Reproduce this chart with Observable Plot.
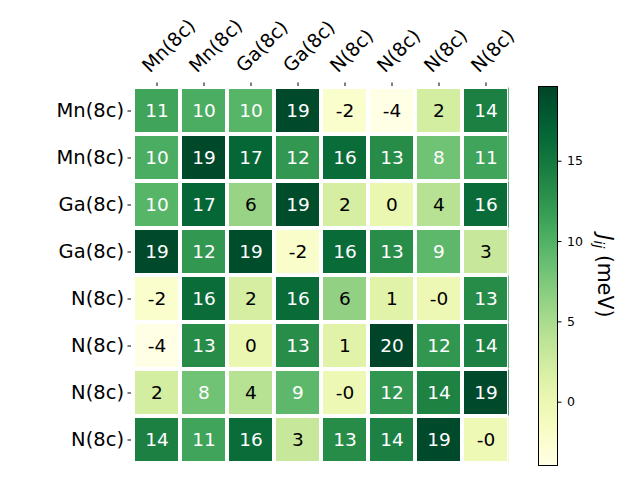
<!DOCTYPE html>
<html><head><meta charset="utf-8">
<script src="https://cdn.jsdelivr.net/npm/d3@7"></script>
<script src="https://cdn.jsdelivr.net/npm/@observablehq/plot@0.6"></script>
<style>
html,body{margin:0;padding:0;background:#fff;}
#wrap{position:relative;width:640px;height:480px;font-family:"DejaVu Sans",sans-serif;}
#wrap svg{position:absolute;left:0;top:0;overflow:visible;}
</style></head><body><div id="wrap"></div>
<script>
// ---- data ----
const siteLabels = ["Mn(8c)","Mn(8c)","Ga(8c)","Ga(8c)","N(8c)","N(8c)","N(8c)","N(8c)"];
const row0 = [11.2, 10.4,  9.7, 19.2, -2.2, -3.94,  2.2, 14.3];
const row1 = [10.4, 19.4, 16.8, 12.3, 16.1, 13.2,   8.3, 11.2];
const row2 = [ 9.7, 16.8,  6.0, 19.0,  2.1,  0.2,   4.2, 16.2];
const row3 = [19.2, 12.3, 19.0, -2.1, 16.3, 13.1,   9.3,  3.1];
const row4 = [-2.2, 16.1,  2.1, 16.3,  6.4,  1.2,  -0.3, 13.2];
const row5 = [-3.94,13.2,  0.2, 13.1,  1.2, 19.65, 12.4, 14.2];
const row6 = [ 2.2,  8.3,  4.2,  9.3, -0.3, 12.4,  14.1, 19.3];
const row7 = [14.3, 11.2, 16.2,  3.1, 13.2, 14.2,  19.3, -0.4];
const rows = [row0,row1,row2,row3,row4,row5,row6,row7];
const colorbarTicks = [0, 5, 10, 15];
const colorbarLabel = ["J", "ij", " (meV)"];

// ---- build ----
const cells = [];
rows.forEach((r, i) => r.forEach((v, j) => cells.push({row: i, col: j, v})));
const vmin = d3.min(cells, d => d.v), vmax = d3.max(cells, d => d.v);
const mid = (vmin + vmax) / 2;
const idx = d3.range(siteLabels.length);
const lastCol = idx.length - 1;
const colorOpt = {type: "linear", scheme: "ylgn", domain: [vmin, vmax]};
const font = "DejaVu Sans";
const bw = (640 - 131 - 130) / idx.length;

const main = Plot.plot({
  width: 640, height: 480,
  marginLeft: 131, marginRight: 130, marginTop: 85, marginBottom: 15,
  style: {fontFamily: font, fontSize: "19px", background: "transparent", color: "black"},
  x: {type: "band", domain: idx, padding: 0, axis: null},
  y: {type: "band", domain: idx, padding: 0, axis: null},
  color: colorOpt,
  marks: [
    Plot.cell(cells, {x: "col", y: "row", fill: "v", inset: 2}),
    // thin clipped edge sliver at the right border (as in the reference)
    Plot.cell(cells, {filter: d => d.col === lastCol, x: "col", y: "row", fill: "v",
      insetLeft: bw - 1, insetRight: 0, insetTop: 0.5, insetBottom: 0.5}),
    Plot.text(cells, {filter: d => d.v > mid, x: "col", y: "row", text: d => d.v.toFixed(0), fill: "white", fontSize: 18.5}),
    Plot.text(cells, {filter: d => d.v <= mid, x: "col", y: "row", text: d => d.v.toFixed(0), fill: "black", fontSize: 18.5}),
    Plot.axisX(idx, {anchor: "top", label: null, tickSize: 3.5, tickFormat: () => ""}),
    Plot.text(idx, {x: d => d, frameAnchor: "top", text: d => siteLabels[d], rotate: -45,
      textAnchor: "start", lineAnchor: "bottom", dx: -7, dy: -12, fontSize: 19, fill: "black"}),
    Plot.axisY(idx, {anchor: "left", label: null, tickSize: 3.5, tickPadding: 4, tickFormat: d => siteLabels[d], fontSize: 19.5})
  ]
});

const cbar = Plot.plot({
  width: 640, height: 480,
  marginLeft: 538, marginRight: 83, marginTop: 86, marginBottom: 15,
  style: {fontFamily: font, fontSize: "12px", background: "transparent", color: "black"},
  x: {domain: [0, 1], axis: null},
  y: {domain: [vmin, vmax], axis: null},
  color: colorOpt,
  marks: [
    Plot.raster({fill: (x, y) => y, x1: 0, x2: 1, y1: vmin, y2: vmax, width: 1, height: 379, imageRendering: "auto"}),
    Plot.frame({stroke: "black", strokeWidth: 1}),
    Plot.axisY(colorbarTicks, {anchor: "right", label: null, tickSize: 3.5, tickPadding: 6, fontSize: 12.5})
  ]
});

const wrap = document.getElementById("wrap");
wrap.appendChild(main);
wrap.appendChild(cbar);

// colorbar label (rotated, with subscript)
const t = d3.select(cbar).append("text")
  .attr("transform", "translate(598,276) rotate(90)")
  .attr("text-anchor", "middle")
  .attr("font-family", font).attr("font-size", 20.5).attr("fill", "black");
t.append("tspan").attr("font-style", "italic").text(colorbarLabel[0]);
t.append("tspan").attr("font-style", "italic").attr("font-size", 14).attr("baseline-shift", "-25%").text(colorbarLabel[1]);
t.append("tspan").text(colorbarLabel[2]);
</script></body></html>
